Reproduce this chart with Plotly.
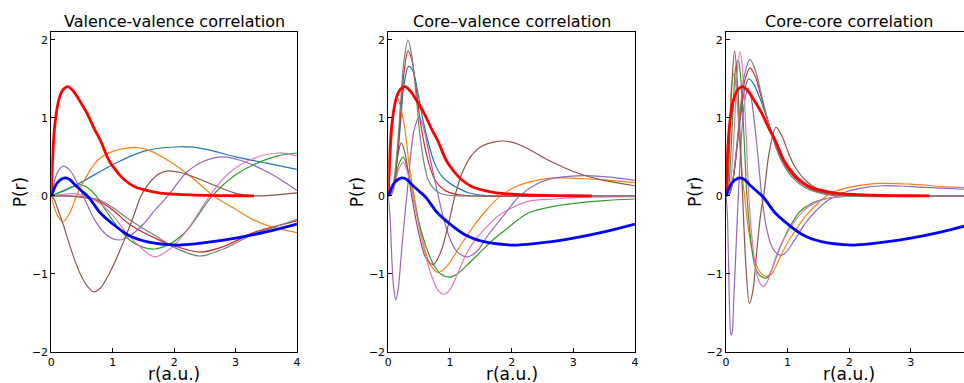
import plotly.graph_objects as go

# ---------------- shared thick curves ----------------
red_r = [0, 0.02, 0.05, 0.1, 0.15, 0.2, 0.27, 0.35, 0.47, 0.58, 0.7, 0.8, 0.95, 1.1, 1.2, 1.35, 1.5, 1.75, 2.06, 2.5, 3.0, 3.3]
red_p = [0, 0.45, 0.85, 1.15, 1.3, 1.37, 1.4, 1.35, 1.21, 1.06, 0.86, 0.71, 0.44, 0.28, 0.2, 0.12, 0.08, 0.04, 0.02, 0.008, 0.002, 0]
blue_r = [0, 0.05, 0.1, 0.22, 0.3, 0.4, 0.5, 0.6, 0.8, 1.0, 1.25, 1.57, 1.9, 2.09, 2.5, 3.0, 3.5, 4.0]
blue_p = [0, 0.1, 0.17, 0.23, 0.21, 0.13, 0.06, -0.01, -0.22, -0.36, -0.5, -0.59, -0.625, -0.63, -0.6, -0.54, -0.46, -0.36]

# ---------------- Valence-valence ----------------
vv_c0_r = [0, 0.25, 0.5, 1.0, 1.5, 2.1, 2.5, 3.0, 3.5, 4.0]
vv_c0_p = [0, 0.08, 0.18, 0.4, 0.57, 0.63, 0.6, 0.5, 0.42, 0.34]
vv_c1_r = [0, 0.05, 0.1, 0.19, 0.3, 0.41, 0.55, 0.76, 1.0, 1.2, 1.4, 1.6, 1.93, 2.3, 2.64, 3.0, 3.3, 3.6, 4.0]
vv_c1_p = [0, -0.15, -0.25, -0.33, -0.22, 0, 0.22, 0.46, 0.57, 0.61, 0.62, 0.58, 0.44, 0.23, 0, -0.17, -0.31, -0.4, -0.47]
vv_c2_r = [0, 0.2, 0.35, 0.49, 0.6, 0.73, 0.9, 1.1, 1.3, 1.5, 1.68, 1.93, 2.2, 2.62, 3.0, 3.29, 3.67, 4.0]
vv_c2_p = [0, 0.07, 0.12, 0.14, 0.1, 0, -0.2, -0.42, -0.58, -0.66, -0.68, -0.615, -0.45, 0, 0.27, 0.4, 0.51, 0.55]
vv_c3_r = [0, 0.2, 0.4, 0.6, 0.78, 1.0, 1.25, 1.5, 1.74, 2.0, 2.42, 2.8, 3.29, 3.6, 4.0]
vv_c3_p = [0, 0.0, -0.01, -0.03, -0.07, -0.18, -0.35, -0.47, -0.56, -0.64, -0.72, -0.65, -0.47, -0.4, -0.32]
vv_c4_r = [0, 0.05, 0.1, 0.19, 0.3, 0.4, 0.52, 0.7, 0.9, 1.11, 1.3, 1.5, 1.7, 1.9, 2.2, 2.5, 2.8, 3.1, 3.56, 4.0]
vv_c4_p = [0, 0.18, 0.3, 0.38, 0.33, 0.2, 0, -0.3, -0.5, -0.565, -0.5, -0.36, -0.17, 0.0, 0.3, 0.45, 0.5, 0.45, 0.29, 0.07]
vv_c5_r = [0, 0.05, 0.11, 0.2, 0.27, 0.38, 0.49, 0.6, 0.69, 0.8, 0.92, 1.05, 1.19, 1.33, 1.46, 1.6, 1.75, 1.9, 2.1, 2.4, 2.64, 3.02, 3.3, 3.6, 4.0]
vv_c5_p = [0, -0.05, -0.18, -0.38, -0.56, -0.82, -1.03, -1.17, -1.23, -1.18, -1.03, -0.82, -0.56, -0.28, 0, 0.17, 0.28, 0.32, 0.3, 0.22, 0.14, 0.03, 0.0, 0.01, 0.04]
vv_c6_r = [0, 0.2, 0.35, 0.55, 0.8, 1.0, 1.2, 1.4, 1.68, 1.93, 2.2, 2.58, 2.9, 3.29, 3.7, 4.0]
vv_c6_p = [0, 0.02, 0.03, 0.0, -0.1, -0.25, -0.45, -0.62, -0.78, -0.68, -0.45, 0, 0.3, 0.48, 0.55, 0.51]
vv_c7_r = [0, 0.3, 0.5, 0.78, 1.0, 1.25, 1.5, 1.74, 2.0, 2.42, 2.8, 3.29, 3.6, 4.0]
vv_c7_p = [0, 0, -0.01, -0.05, -0.15, -0.29, -0.42, -0.53, -0.66, -0.77, -0.68, -0.49, -0.41, -0.3]

# ---------------- Core-valence ----------------
cv_c0_r = [0, 0.05, 0.1, 0.15, 0.2, 0.25, 0.33, 0.4, 0.48, 0.56, 0.65, 0.75, 0.87, 1.0, 1.11, 1.3, 1.5, 1.8, 4.0]
cv_c0_p = [0, 0.03, 0.18, 0.5, 0.95, 1.4, 1.66, 1.6, 1.32, 0.98, 0.68, 0.42, 0.25, 0.16, 0.11, 0.04, 0.01, 0, 0]
cv_c1_r = [0, 0.03, 0.06, 0.09, 0.13, 0.18, 0.23, 0.27, 0.35, 0.42, 0.55, 0.68, 0.81, 0.95, 1.19, 1.4, 1.57, 1.82, 2.1, 2.4, 2.7, 3.2, 3.6, 4.0]
cv_c1_p = [0, 0.35, 0.8, 1.1, 1.27, 1.2, 1.03, 0.85, 0.33, 0, -0.55, -0.88, -0.98, -0.9, -0.61, -0.37, -0.2, 0, 0.13, 0.2, 0.23, 0.22, 0.2, 0.17]
cv_c2_r = [0, 0.05, 0.1, 0.16, 0.24, 0.32, 0.4, 0.5, 0.6, 0.72, 0.85, 1.0, 1.15, 1.3, 1.57, 1.73, 1.89, 2.27, 2.7, 3.08, 3.5, 4.0]
cv_c2_p = [0, 0.02, 0.15, 0.38, 0.5, 0.32, 0.0, -0.35, -0.62, -0.86, -1.0, -1.04, -0.98, -0.87, -0.66, -0.54, -0.44, -0.22, -0.13, -0.09, -0.06, -0.04]
cv_c3_r = [0, 0.05, 0.1, 0.15, 0.2, 0.25, 0.32, 0.38, 0.45, 0.52, 0.6, 0.68, 0.76, 0.9, 1.1, 1.4, 4.0]
cv_c3_p = [0, 0.03, 0.2, 0.55, 1.05, 1.55, 1.86, 1.75, 1.38, 0.95, 0.6, 0.36, 0.2, 0.08, 0.02, 0, 0]
cv_c4_r = [0, 0.03, 0.06, 0.09, 0.12, 0.16, 0.2, 0.25, 0.3, 0.36, 0.42, 0.5, 0.58, 0.66, 0.73, 0.81, 0.9, 1.0, 1.12, 1.29, 1.45, 1.6, 1.73, 1.9, 2.13, 2.4, 2.7, 2.92, 3.2, 3.6, 4.0]
cv_c4_p = [0, -0.3, -0.85, -1.2, -1.33, -1.2, -0.85, -0.4, 0, 0.5, 0.85, 1.01, 0.85, 0.55, 0.29, 0, -0.3, -0.55, -0.72, -0.78, -0.7, -0.52, -0.39, -0.22, 0, 0.15, 0.23, 0.25, 0.26, 0.24, 0.2]
cv_c5_r = [0, 0.05, 0.1, 0.15, 0.21, 0.27, 0.33, 0.4, 0.5, 0.6, 0.73, 0.85, 0.97, 1.08, 1.2, 1.35, 1.5, 1.7, 1.92, 2.2, 2.54, 3.08, 3.5, 4.0]
cv_c5_p = [0, 0.02, 0.2, 0.5, 0.68, 0.55, 0.25, -0.1, -0.5, -0.78, -0.88, -0.72, -0.38, 0, 0.3, 0.52, 0.63, 0.69, 0.7, 0.63, 0.48, 0.29, 0.2, 0.13]
cv_c6_r = [0, 0.05, 0.1, 0.16, 0.24, 0.32, 0.4, 0.5, 0.6, 0.7, 0.8, 0.89, 1.0, 1.12, 1.25, 1.4, 1.57, 1.73, 1.89, 2.27, 2.7, 3.08, 4.0]
cv_c6_p = [0, 0.02, 0.12, 0.32, 0.43, 0.28, 0, -0.4, -0.75, -1.02, -1.2, -1.26, -1.2, -1.0, -0.77, -0.57, -0.42, -0.29, -0.2, -0.07, -0.04, -0.02, -0.01]
cv_c7_r = [0, 0.05, 0.1, 0.15, 0.2, 0.25, 0.32, 0.38, 0.45, 0.51, 0.58, 0.65, 0.73, 0.85, 1.0, 1.5, 4.0]
cv_c7_p = [0, 0.03, 0.25, 0.65, 1.2, 1.7, 2.0, 1.8, 1.3, 0.8, 0.42, 0.2, 0.1, 0.03, 0.005, 0, 0]

# ---------------- Core-core ----------------
cc_c0_r = [0, 0.05, 0.1, 0.15, 0.2, 0.25, 0.3, 0.37, 0.46, 0.55, 0.63, 0.72, 0.82, 0.92, 1.05, 1.2, 1.35, 1.5, 1.7, 2.0, 4.0]
cc_c0_p = [0, 0.02, 0.15, 0.42, 0.78, 1.1, 1.35, 1.5, 1.42, 1.25, 1.08, 0.86, 0.64, 0.47, 0.31, 0.19, 0.11, 0.06, 0.025, 0.005, 0]
cc_c1_r = [0, 0.03, 0.06, 0.09, 0.13, 0.17, 0.21, 0.26, 0.3, 0.36, 0.43, 0.5, 0.58, 0.65, 0.72, 0.8, 0.9, 1.0, 1.13, 1.3, 1.5, 1.69, 2.0, 2.5, 3.0, 3.5, 4.0]
cc_c1_p = [0, 0.3, 0.9, 1.4, 1.57, 1.35, 0.8, 0.3, 0.0, -0.4, -0.72, -0.9, -1.0, -1.03, -1.02, -0.92, -0.75, -0.6, -0.44, -0.25, -0.09, 0.03, 0.11, 0.16, 0.15, 0.12, 0.1]
cc_c2_r = [0, 0.04, 0.08, 0.12, 0.16, 0.2, 0.24, 0.29, 0.34, 0.4, 0.47, 0.55, 0.62, 0.67, 0.74, 0.82, 0.92, 1.07, 1.2, 1.4, 1.6, 1.8, 2.2, 4.0]
cc_c2_p = [0, 0.1, 0.55, 1.2, 1.65, 1.74, 1.5, 0.8, 0.0, -0.55, -0.9, -1.02, -1.05, -1.05, -0.95, -0.78, -0.58, -0.35, -0.2, -0.09, -0.04, -0.015, 0.0, 0.0]
cc_c3_r = [0, 0.05, 0.1, 0.15, 0.2, 0.25, 0.3, 0.39, 0.48, 0.56, 0.63, 0.72, 0.82, 0.92, 1.05, 1.2, 1.35, 1.5, 1.7, 2.0, 4.0]
cc_c3_p = [0, 0.02, 0.14, 0.42, 0.8, 1.17, 1.46, 1.64, 1.52, 1.3, 1.1, 0.86, 0.62, 0.45, 0.29, 0.17, 0.1, 0.05, 0.02, 0, 0]
cc_c4_r = [0, 0.02, 0.04, 0.06, 0.08, 0.1, 0.12, 0.15, 0.2, 0.25, 0.3, 0.36, 0.41, 0.46, 0.52, 0.58, 0.65, 0.72, 0.8, 0.9, 1.0, 1.1, 1.29, 1.45, 1.67, 1.9, 2.2, 2.55, 3.0, 3.5, 4.0]
cc_c4_p = [0, -0.2, -0.8, -1.5, -1.78, -1.75, -1.45, -0.9, 0.0, 0.75, 1.2, 1.38, 1.25, 0.95, 0.5, 0.0, -0.38, -0.6, -0.72, -0.76, -0.7, -0.58, -0.35, -0.2, -0.05, 0.04, 0.1, 0.13, 0.12, 0.1, 0.08]
cc_c5_r = [0, 0.03, 0.06, 0.1, 0.14, 0.19, 0.23, 0.27, 0.32, 0.38, 0.44, 0.5, 0.56, 0.62, 0.7, 0.81, 0.9, 1.0, 1.1, 1.29, 1.5, 1.72, 2.0, 4.0]
cc_c5_p = [0, 0.15, 0.7, 1.5, 1.86, 1.4, 0.75, 0.0, -0.85, -1.38, -1.2, -0.7, -0.25, 0.05, 0.55, 0.88, 0.78, 0.58, 0.4, 0.2, 0.08, 0.03, 0.0, 0.0]
cc_c6_r = [0, 0.05, 0.1, 0.15, 0.19, 0.23, 0.27, 0.32, 0.37, 0.43, 0.5, 0.56, 0.61, 0.68, 0.76, 0.85, 1.02, 1.2, 1.34, 1.5, 1.67, 2.0, 4.0]
cc_c6_p = [0, 0.05, 0.4, 1.1, 1.65, 1.85, 1.6, 0.9, 0.0, -0.6, -1.0, -1.13, -1.16, -1.08, -0.9, -0.7, -0.44, -0.24, -0.14, -0.07, -0.03, 0.0, 0.0]
cc_c7_r = [0, 0.05, 0.1, 0.15, 0.2, 0.25, 0.3, 0.39, 0.48, 0.56, 0.63, 0.72, 0.82, 0.92, 1.05, 1.2, 1.35, 1.5, 1.7, 2.0, 4.0]
cc_c7_p = [0, 0.02, 0.15, 0.45, 0.85, 1.25, 1.55, 1.75, 1.6, 1.35, 1.12, 0.85, 0.6, 0.42, 0.26, 0.15, 0.08, 0.04, 0.01, 0, 0]

titles = ["Valence-valence correlation", "Core\u2013valence correlation", "Core-core correlation"]
xlabel = "r(a.u.)"
ylabel = "P(r)"
x_ticks = [0, 1, 2, 3, 4]
y_ticks = [-2, -1, 0, 1, 2]

tab10 = ["#1f77b4", "#ff7f0e", "#2ca02c", "#d62728", "#9467bd", "#8c564b", "#e377c2", "#7f7f7f"]

panels = [
    [(vv_c0_r, vv_c0_p), (vv_c1_r, vv_c1_p), (vv_c2_r, vv_c2_p), (vv_c3_r, vv_c3_p),
     (vv_c4_r, vv_c4_p), (vv_c5_r, vv_c5_p), (vv_c6_r, vv_c6_p), (vv_c7_r, vv_c7_p)],
    [(cv_c0_r, cv_c0_p), (cv_c1_r, cv_c1_p), (cv_c2_r, cv_c2_p), (cv_c3_r, cv_c3_p),
     (cv_c4_r, cv_c4_p), (cv_c5_r, cv_c5_p), (cv_c6_r, cv_c6_p), (cv_c7_r, cv_c7_p)],
    [(cc_c0_r, cc_c0_p), (cc_c1_r, cc_c1_p), (cc_c2_r, cc_c2_p), (cc_c3_r, cc_c3_p),
     (cc_c4_r, cc_c4_p), (cc_c5_r, cc_c5_p), (cc_c6_r, cc_c6_p), (cc_c7_r, cc_c7_p)],
]

W, H = 964, 383
FONT = "DejaVu Sans"
# pixel layout of the axes boxes
x_dom_px = [(51.3, 297.0), (388.3, 635.0), (726.0, 964.0)]
x_ranges = [[0, 4], [0, 4], [0, (964.0 - 726.0) / 61.6]]
y_top_px, y_bot_px = 32.0, 352.0


def fy(py):
    return 1 - py / H


fig = go.Figure()
for i, curves in enumerate(panels):
    xa = "x" if i == 0 else f"x{i+1}"
    ya = "y" if i == 0 else f"y{i+1}"
    for j, (rr, pp) in enumerate(curves):
        fig.add_trace(go.Scatter(x=rr, y=pp, mode="lines", xaxis=xa, yaxis=ya,
                                 line=dict(color=tab10[j], width=1.2, shape="spline", smoothing=0.9),
                                 showlegend=False, hoverinfo="skip"))
    fig.add_trace(go.Scatter(x=red_r, y=red_p, mode="lines", xaxis=xa, yaxis=ya,
                             line=dict(color="#ff0000", width=2.8, shape="spline", smoothing=0.9),
                             showlegend=False, hoverinfo="skip"))
    fig.add_trace(go.Scatter(x=blue_r, y=blue_p, mode="lines", xaxis=xa, yaxis=ya,
                             line=dict(color="#0000ff", width=2.8, shape="spline", smoothing=0.9),
                             showlegend=False, hoverinfo="skip"))

layout = dict(width=W, height=H, margin=dict(l=0, r=0, t=0, b=0), autosize=False,
              template="none",
              paper_bgcolor="white", plot_bgcolor="white", showlegend=False,
              font=dict(family=FONT, color="black"))
ydom = [fy(y_bot_px), fy(y_top_px)]
annotations = []
for i in range(3):
    sx = "xaxis" if i == 0 else f"xaxis{i+1}"
    sy = "yaxis" if i == 0 else f"yaxis{i+1}"
    x0, x1 = x_dom_px[i]
    layout[sx] = dict(domain=[x0 / W, x1 / W], range=x_ranges[i], anchor="y" if i == 0 else f"y{i+1}",
                      tickvals=x_ticks, ticktext=[str(t) for t in x_ticks], automargin=False,
                      ticks="inside", ticklen=4, tickwidth=1, tickcolor="black",
                      showline=True, linecolor="black", linewidth=1, mirror=True,
                      showgrid=False, zeroline=False, tickfont=dict(size=11, family=FONT, color="black"))
    layout[sy] = dict(domain=ydom, range=[-2, 2.1], anchor="x" if i == 0 else f"x{i+1}",
                      tickvals=y_ticks, ticktext=[str(t).replace("-", "\u2212") for t in y_ticks],
                      automargin=False,
                      ticks="inside", ticklen=4, tickwidth=1, tickcolor="black",
                      showline=True, linecolor="black", linewidth=1, mirror=(i < 2),
                      showgrid=False, zeroline=False, tickfont=dict(size=11, family=FONT, color="black"))
    full_x1 = x0 + 4 * 61.6 if i == 2 else x1
    cx = (x0 + full_x1) / 2
    annotations.append(dict(text=titles[i], x=cx / W, y=fy(22), xref="paper", yref="paper",
                            showarrow=False, xanchor="center", yanchor="middle",
                            font=dict(size=16, family=FONT, color="black")))
    annotations.append(dict(text=xlabel, x=cx / W, y=fy(374), xref="paper", yref="paper",
                            showarrow=False, xanchor="center", yanchor="middle",
                            font=dict(size=17, family=FONT, color="black")))
    annotations.append(dict(text=ylabel, x=(x0 - 31) / W, y=fy(192), xref="paper", yref="paper",
                            showarrow=False, xanchor="center", yanchor="middle", textangle=-90,
                            font=dict(size=17, family=FONT, color="black")))
layout["annotations"] = annotations
fig.update_layout(**layout)
fig.write_html(
    "out.html",
    config={"displayModeBar": False, "responsive": False},
    post_script=("document.documentElement.style.margin='0px';document.body.style.margin='0px';"
                 "document.documentElement.style.overflow='hidden';document.body.style.overflow='hidden';"),
)
